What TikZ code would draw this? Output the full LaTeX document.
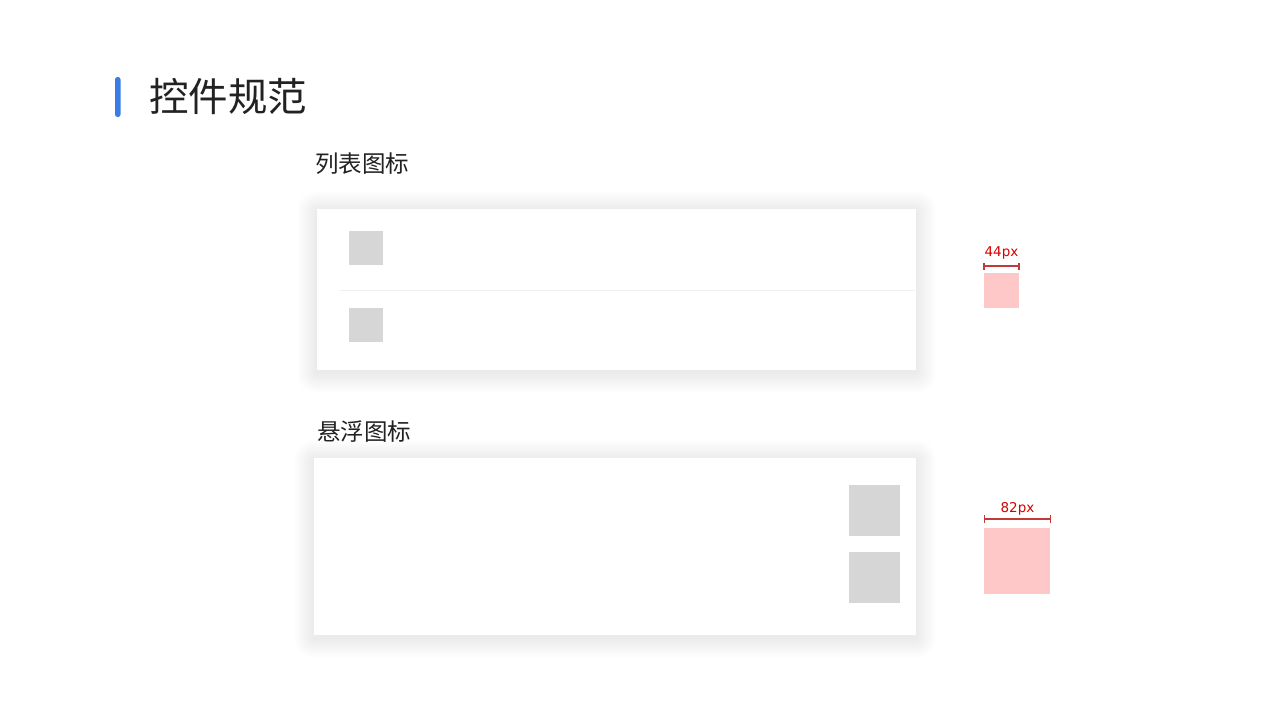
\documentclass[tikz,border=0pt]{standalone}
\usepackage{fontspec}
\newfontfamily\cjk{Noto Sans CJK SC}
\newfontfamily\dv{DejaVu Sans}
\definecolor{barblue}{HTML}{3A7BE6}
\definecolor{titlec}{HTML}{222222}
\definecolor{iconc}{HTML}{D6D6D6}
\definecolor{divc}{HTML}{EFEFEF}
\definecolor{pinkc}{HTML}{FFC8C8}
\definecolor{dimc}{HTML}{C0393B}
\definecolor{dimtxt}{HTML}{D60000}
\newcommand\mysoftshadow[4]{%
  \foreach \i in {1,...,20}{%
    \fill[black, opacity=0.002, rounded corners=\i pt] (#1-\i,#2-\i+2) rectangle (#3+\i,#4+\i+3);
  }%
}
\begin{document}
\begin{tikzpicture}[x=1pt,y=-1pt,
  card/.style={fill=white, draw=none},
  icon/.style={fill=iconc, draw=none},
  pink/.style={fill=pinkc, draw=none},
  dimline/.style={draw=dimc, line width=1.2pt},
  dimlabel/.style={font=\dv\fontsize{13.5}{13.5}\selectfont, text=dimtxt, inner sep=0pt, anchor=south},
  sect/.style={font=\cjk\fontsize{23.5}{24}\selectfont, text=titlec, inner sep=0pt, anchor=west}
]
\useasboundingbox (0,0) rectangle (1280,720);
\fill[white] (0,0) rectangle (1280,720);

% title
\fill[barblue, rounded corners=2.5pt] (115,77) rectangle (120.5,117);
\node[font=\cjk\fontsize{39.5}{40}\selectfont, text=titlec, inner sep=0pt, anchor=west] (title) at (149,96) {控件规范};

% section 1
\node[sect] (s1) at (315,164) {列表图标};
\mysoftshadow{317}{209}{916}{370}
\path[card] (317,209) rectangle (916,370);
\node[icon, minimum width=34pt, minimum height=34pt, inner sep=0pt] (i1) at (366,248) {};
\node[icon, minimum width=34pt, minimum height=34pt, inner sep=0pt] (i2) at (366,325) {};
\draw[divc, line width=0.8pt] (340,290) -- (915,290);

% section 2
\node[sect] (s2) at (317,432) {悬浮图标};
\mysoftshadow{314}{458}{916}{635}
\path[card] (314,458) rectangle (916,635);
\node[icon, minimum width=51pt, minimum height=51pt, inner sep=0pt] (i3) at (874.5,510) {};
\node[icon, minimum width=51pt, minimum height=51pt, inner sep=0pt] (i4) at (874.5,577.5) {};

% dimension 44px
\node[pink, minimum width=35pt, minimum height=35pt, inner sep=0pt] (p1) at (1001.5,290.5) {};
\coordinate (a1) at (984,266);
\coordinate (b1) at (1019,266);
\draw[dimline] (a1) -- (b1);
\draw[dimline] ([yshift=-3.5pt]a1) -- ([yshift=3.5pt]a1);
\draw[dimline] ([yshift=-3.5pt]b1) -- ([yshift=3.5pt]b1);
\node[dimlabel] (l1) at (1001.5,260) {44px};

% dimension 82px
\node[pink, minimum width=65.5pt, minimum height=65.5pt, inner sep=0pt] (p2) at (1016.75,560.75) {};
\coordinate (a2) at (984.5,519);
\coordinate (b2) at (1050.5,519);
\draw[dimline] (a2) -- (b2);
\draw[dimline] ([yshift=-4pt]a2) -- ([yshift=4pt]a2);
\draw[dimline] ([yshift=-4pt]b2) -- ([yshift=4pt]b2);
\node[dimlabel] (l2) at (1017.5,516) {82px};
\end{tikzpicture}
\end{document}
